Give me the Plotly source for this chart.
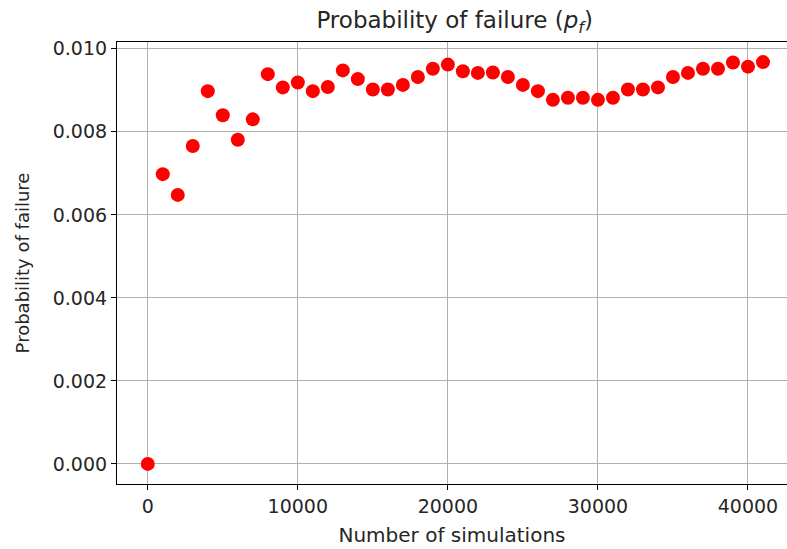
import plotly.graph_objects as go

simulations = [0, 1000, 2000, 3000, 4000, 5000, 6000, 7000, 8000, 9000, 10000,
               11000, 12000, 13000, 14000, 15000, 16000, 17000, 18000, 19000, 20000,
               21000, 22000, 23000, 24000, 25000, 26000, 27000, 28000, 29000, 30000,
               31000, 32000, 33000, 34000, 35000, 36000, 37000, 38000, 39000, 40000, 41000]
pf = [0.0, 0.00698, 0.00648, 0.00766, 0.00898, 0.00840, 0.00781, 0.00830, 0.00939, 0.00907, 0.00919,
      0.00898, 0.00908, 0.00948, 0.00927, 0.00902, 0.00902, 0.00913, 0.00932, 0.00952, 0.00962,
      0.00946, 0.00942, 0.00943, 0.00932, 0.00913, 0.00898, 0.00877, 0.00882, 0.00882, 0.00877,
      0.00882, 0.00902, 0.00902, 0.00907, 0.00932, 0.00942, 0.00952, 0.00952, 0.00967, 0.00957, 0.00968]
x_ticks = [0, 10000, 20000, 30000, 40000]
y_ticks = [0.0, 0.002, 0.004, 0.006, 0.008, 0.010]

FONT = "DejaVu Sans"
TXT = "#262626"

fig = go.Figure(go.Scatter(
    x=simulations, y=pf, mode="markers",
    marker=dict(color="#ff0000", size=14, line=dict(width=0)),
))

fig.update_layout(
    width=787, height=549,
    margin=dict(l=117, r=0, t=42, b=65),
    paper_bgcolor="white", plot_bgcolor="white",
    font=dict(family=FONT, size=19, color=TXT),
    showlegend=False,
    title=dict(text="Probability of failure (<i>p</i><sub><i>f</i></sub>)",
               x=0.504, xref="paper", xanchor="center",
               y=1 - 20 / 549, yref="container", yanchor="middle",
               font=dict(family=FONT, size=23, color=TXT)),
)
fig.update_xaxes(
    range=[-2050, 42600], tickvals=x_ticks, tickformat="d",
    tickfont=dict(size=19),
    showgrid=True, gridcolor="#b0b0b0", gridwidth=1.1,
    showline=True, linecolor="black", linewidth=1.2, mirror=True,
    ticks="outside", ticklen=5, tickwidth=1.1, tickcolor="black",
    zeroline=False,
    title=dict(text="Number of simulations", standoff=12, font=dict(size=20)),
)
fig.update_yaxes(
    range=[-0.000484, 0.010164], tickvals=y_ticks, tickformat=".3f",
    tickfont=dict(size=19),
    showgrid=True, gridcolor="#b0b0b0", gridwidth=1.1,
    showline=True, linecolor="black", linewidth=1.2,
    ticks="outside", ticklen=5, tickwidth=1.1, tickcolor="black",
    zeroline=False,
    title=dict(text="Probability of failure", standoff=18, font=dict(size=18)),
)

fig.write_html("out.html")
